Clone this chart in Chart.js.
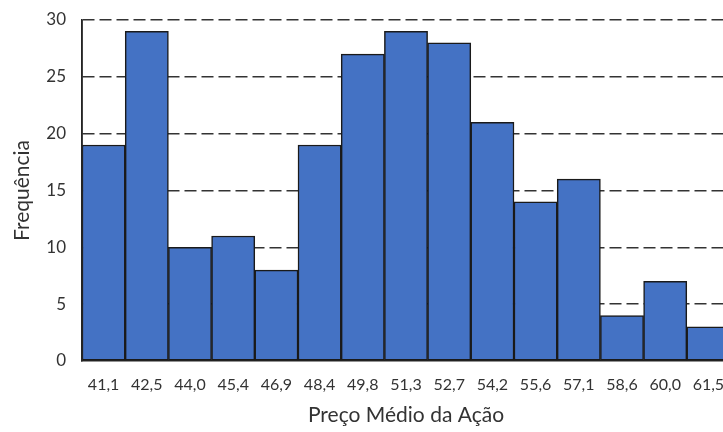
<!DOCTYPE html>
<html>
<head>
<meta charset="utf-8">
<script src="https://cdn.jsdelivr.net/npm/chart.js@4"></script>
<style>
html,body{margin:0;padding:0;overflow:hidden;background:#fff;width:723px;height:432px;}
#wrap{width:745px;height:432px;}
canvas{display:block;}
</style>
</head>
<body>
<div id="wrap"><canvas id="c" width="745" height="432"></canvas></div>
<script>
const categories = ["41,1","42,5","44,0","45,4","46,9","48,4","49,8","51,3","52,7","54,2","55,6","57,1","58,6","60,0","61,5"];
const frequencies = [19,29,10,11,8,19,27,29,28,21,14,16,4,7,3];
const yTicks = [0,5,10,15,20,25,30];
const xTitle = "Preço Médio da Ação";
const yTitle = "Frequência";

const FONT = "Lato, 'Liberation Sans', sans-serif";
const dark = "#262626";
const textCol = "#333333";

new Chart(document.getElementById('c'), {
  type: 'bar',
  data: {
    labels: categories,
    datasets: [{
      data: frequencies,
      backgroundColor: '#4472C4',
      borderColor: '#1a1a1a',
      borderWidth: 1.5,
      barPercentage: 1.0,
      categoryPercentage: 1.0,
      borderSkipped: false
    }]
  },
  options: {
    responsive: false,
    animation: false,
    devicePixelRatio: 1,
    layout: { padding: { left: 0, right: 15, top: 20, bottom: 0 } },
    plugins: { legend: { display: false }, tooltip: { enabled: false } },
    scales: {
      x: {
        grid: { display: false, drawTicks: false },
        border: { display: true, color: dark, width: 1.5 },
        ticks: { color: textCol, font: { family: FONT, size: 16 }, padding: 14, maxRotation: 0, autoSkip: false },
        title: { display: true, text: xTitle, color: textCol, font: { family: FONT, size: 21 }, padding: { top: 2, bottom: 4 } },
        afterFit: (s) => { s.height = 71; s.paddingLeft = 0; s.paddingRight = 0; }
      },
      y: {
        min: 0, max: 30,
        afterBuildTicks: (s) => { s.ticks = yTicks.map(v => ({ value: v })); },
        grid: {
          drawTicks: false,
          color: (ctx) => ctx.tick && ctx.tick.value === 0 ? 'rgba(0,0,0,0)' : '#333333',
          lineWidth: 1.6
        },
        border: { display: true, color: dark, width: 1.5, dash: [12, 5] },
        ticks: { color: textCol, font: { family: FONT, size: 17 }, padding: 16 },
        title: { display: true, text: yTitle, color: textCol, font: { family: FONT, size: 21 }, padding: { top: 10, bottom: 4 } },
        afterFit: (s) => { s.width = 82; s.paddingTop = 0; s.paddingBottom = 0; }
      }
    }
  },
  plugins: [{
    id: 'leftBorderSolid',
    afterDraw(chart) {
      const a = chart.chartArea, ctx = chart.ctx;
      ctx.save();
      ctx.strokeStyle = dark; ctx.lineWidth = 1.5; ctx.setLineDash([]);
      ctx.beginPath(); ctx.moveTo(a.left, a.top); ctx.lineTo(a.left, a.bottom); ctx.stroke();
      ctx.restore();
    }
  }]
});
</script>
</body>
</html>
